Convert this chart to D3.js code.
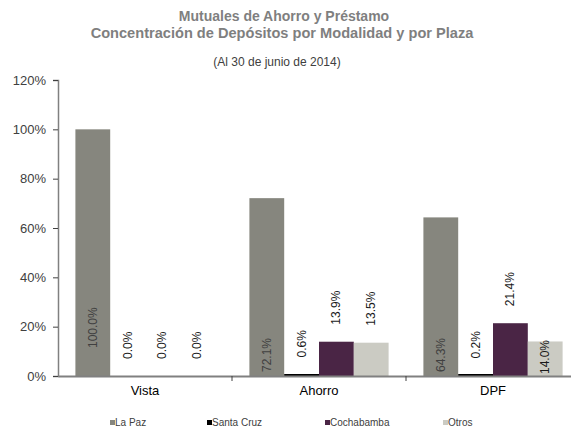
<!DOCTYPE html>
<html>
<head>
<meta charset="utf-8">
<script src="https://cdn.jsdelivr.net/npm/d3@7"></script>
<style>
  body { margin: 0; background: #fff; }
  svg { font-family: Arial, "Liberation Sans", sans-serif; display: block; }
</style>
</head>
<body>
<div class="chart"></div>
<script>
// data
const modalidades = ['Vista', 'Ahorro', 'DPF'];
const plazas = ['La Paz', 'Santa Cruz', 'Cochabamba', 'Otros'];
const laPaz = [100.0, 72.1, 64.3];
const santaCruz = [0.0, 0.6, 0.2];
const cochabamba = [0.0, 13.9, 21.4];
const otros = [0.0, 13.5, 14.0];
const yTicks = [0, 20, 40, 60, 80, 100, 120];

const series = [laPaz, santaCruz, cochabamba, otros];
const colors = ['#86867e', '#000000', '#4a2545', '#cbcbc3'];

const width = 571;
const height = 430;
const margin = {top: 80, left: 58, bottom: 54};
const plotRight = 580; // last band runs past the window edge

const svg = d3.select('.chart')
  .append('svg')
  .attr('width', width)
  .attr('height', height);

// titles
svg.append('text')
  .attr('x', 284).attr('y', 21)
  .attr('text-anchor', 'middle')
  .attr('font-size', 14).attr('font-weight', 'bold')
  .attr('fill', '#7f7f7f')
  .text('Mutuales de Ahorro y Préstamo');
svg.append('text')
  .attr('x', 282).attr('y', 38)
  .attr('text-anchor', 'middle')
  .attr('font-size', 14.6).attr('font-weight', 'bold')
  .attr('fill', '#7f7f7f')
  .text('Concentración de Depósitos por Modalidad y por Plaza');
svg.append('text')
  .attr('x', 277).attr('y', 66)
  .attr('text-anchor', 'middle')
  .attr('font-size', 12)
  .attr('fill', '#404040')
  .text('(Al 30 de junio de 2014)');

const x = d3.scaleBand()
  .domain(modalidades)
  .range([margin.left, plotRight]);

const xInner = d3.scaleBand()
  .domain(plazas)
  .range([0, x.bandwidth()])
  .paddingOuter(0.5)
  .paddingInner(0);

const y = d3.scaleLinear()
  .domain([0, 120])
  .range([height - margin.bottom, margin.top]);

// y axis
const yAxis = svg.append('g')
  .attr('transform', `translate(${margin.left},0)`)
  .call(d3.axisLeft(y).tickValues(yTicks).tickFormat(d => d + '%').tickSize(5).tickPadding(7));
yAxis.select('.domain').attr('stroke', '#808080').attr('stroke-width', 1.5);
yAxis.selectAll('.tick line').attr('stroke', '#404040');
yAxis.selectAll('.tick text')
  .attr('font-size', 13).attr('fill', '#404040')
  .attr('font-family', 'Arial, "Liberation Sans", sans-serif');

// bars
const rows = [];
modalidades.forEach((m, i) => {
  plazas.forEach((p, j) => {
    rows.push({m, p, j, v: series[j][i]});
  });
});

// tiny non-zero values still get a visible sliver
const barTop = d => (d.v > 0 ? Math.min(y(d.v), y(0) - 2) : y(0));

svg.append('g').selectAll('rect')
  .data(rows)
  .enter()
  .append('rect')
  .attr('x', d => x(d.m) + xInner(d.p))
  .attr('y', barTop)
  .attr('width', xInner.bandwidth())
  .attr('height', d => y(0) - barTop(d))
  .attr('fill', d => colors[d.j]);

// x axis
const xAxis = svg.append('g')
  .attr('transform', `translate(0,${y(0)})`)
  .call(d3.axisBottom(x).tickSize(0).tickPadding(10));
xAxis.select('.domain').attr('stroke', '#808080').attr('stroke-width', 2);
xAxis.selectAll('.tick text')
  .attr('font-size', 13).attr('fill', '#000')
  .attr('font-family', 'Arial, "Liberation Sans", sans-serif');
// category separators
svg.selectAll('.sep')
  .data(modalidades.slice(1))
  .enter()
  .append('line')
  .attr('x1', d => x(d)).attr('x2', d => x(d))
  .attr('y1', y(0)).attr('y2', y(0) + 5)
  .attr('stroke', '#404040');

// value labels, rotated
svg.selectAll('.lbl')
  .data(rows)
  .enter()
  .append('text')
  .attr('transform', d => {
    const cx = x(d.m) + xInner(d.p) + xInner.bandwidth() / 2 + 4;
    let by;
    if (d.j === 0) by = d.v >= 100 ? y(0) - 28 : y(0) - 4;
    else if (d.j === 3 && d.m === 'DPF') by = y(0) - 2;
    else by = y(d.v) - 17;
    return `translate(${cx},${by}) rotate(-90)`;
  })
  .attr('font-size', 12)
  .attr('fill', d => d.j === 0 ? '#404040' : '#1a1a1a')
  .text(d => d.v.toFixed(1) + '%');

// legend
const legendX = [110, 207, 325, 443];
const legend = svg.append('g');
plazas.forEach((p, j) => {
  legend.append('rect')
    .attr('x', legendX[j]).attr('y', 420)
    .attr('width', 5).attr('height', 5)
    .attr('fill', colors[j]);
  legend.append('text')
    .attr('x', legendX[j] + 5).attr('y', 426)
    .attr('font-size', 10).attr('fill', '#404040')
    .text(p);
});
</script>
</body>
</html>
